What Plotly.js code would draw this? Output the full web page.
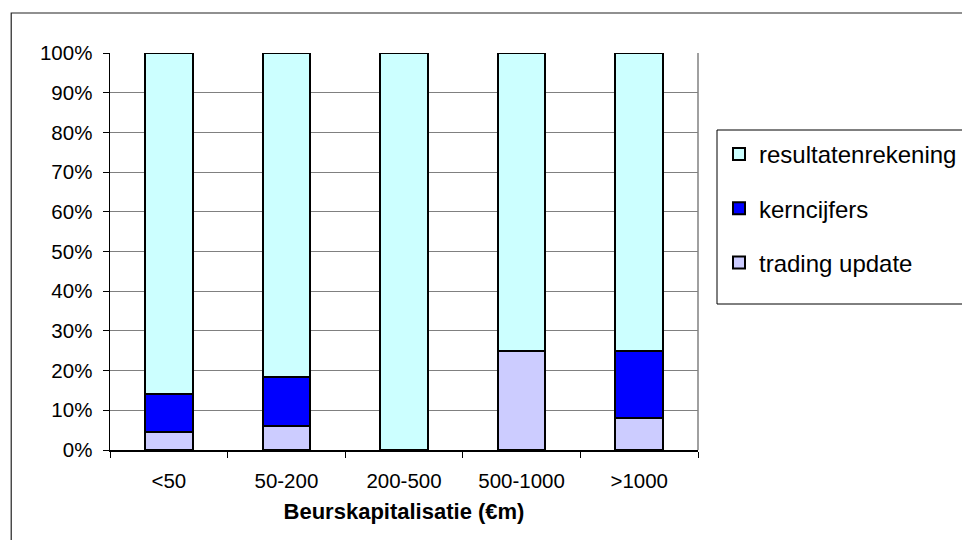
<!DOCTYPE html>
<html>
<head>
<meta charset="utf-8">
<script src="https://cdn.plot.ly/plotly-3.0.1.min.js"></script>
<style>
  html, body { margin: 0; padding: 0; background: #fff; width: 962px; height: 540px; overflow: hidden; }
  #chart { width: 1020px; height: 540px; }
</style>
</head>
<body>
<div id="chart"></div>
<script>
const categories = ['<50', '50-200', '200-500', '500-1000', '>1000'];
const tradingUpdate = [4.5, 6.0, 0, 25, 8];
const kerncijfers = [9.5, 12.5, 0, 0, 17];
const resultatenrekening = [86, 81.5, 100, 75, 75];
const yTickVals = [0, 10, 20, 30, 40, 50, 60, 70, 80, 90, 100];
const yTickText = ['0%', '10%', '20%', '30%', '40%', '50%', '60%', '70%', '80%', '90%', '100%'];

const FONT = 'Liberation Sans, Arial, sans-serif';
const line = { color: '#000000', width: 2 };

const data = [
  { type: 'bar', name: 'trading update', x: categories, y: tradingUpdate,
    marker: { color: '#CCCCFF', line: line }, legendgroup: 'a', legendrank: 3, hoverinfo: 'x+y' },
  { type: 'bar', name: 'kerncijfers', x: categories, y: kerncijfers,
    marker: { color: '#0000FF', line: line }, legendgroup: 'b', legendrank: 2, hoverinfo: 'x+y' },
  { type: 'bar', name: 'resultatenrekening', x: categories, y: resultatenrekening,
    marker: { color: '#CCFFFF', line: line }, legendgroup: 'c', legendrank: 1, hoverinfo: 'x+y' }
];

// plot area: x 110..698 (588 px), y 53..450 (397 px)
const layout = {
  width: 1020, height: 540,
  margin: { l: 110, r: 322, t: 53, b: 90, pad: 0 },
  paper_bgcolor: '#ffffff', plot_bgcolor: '#ffffff',
  barmode: 'stack', bargap: 0.595,
  font: { family: FONT, color: '#000000', size: 20 },
  showlegend: true,
  legend: {
    x: (719 - 110) / 588, xanchor: 'left', y: (450 - 132) / 397, yanchor: 'top',
    borderwidth: 0, bgcolor: 'rgba(255,255,255,0)',
    font: { family: FONT, size: 24, color: '#000000' },
    traceorder: 'grouped', tracegroupgap: 20,
    itemclick: false
  },
  xaxis: {
    type: 'category', tickson: 'boundaries', ticks: 'outside', ticklen: 6,
    tickcolor: '#000000', tickwidth: 1,
    showline: true, linecolor: '#000000', linewidth: 1.5,
    showgrid: false, zeroline: false,
    tickfont: { family: FONT, size: 20.5, color: '#000000' },
    ticklabelstandoff: 12,
    title: { text: 'Beurskapitalisatie (€m)', font: { family: FONT, size: 22, color: '#000000', weight: 'bold' }, standoff: 12 },
    fixedrange: true
  },
  yaxis: {
    range: [0, 100], tickvals: yTickVals, ticktext: yTickText,
    ticks: 'outside', ticklen: 6, tickcolor: '#000000', tickwidth: 1,
    showline: true, linecolor: '#000000', linewidth: 1.5,
    showgrid: true, gridcolor: '#808080', gridwidth: 1.2,
    zeroline: false,
    tickfont: { family: FONT, size: 20.5, color: '#000000' },
    ticklabelstandoff: 6,
    fixedrange: true
  },
  shapes: [
    { type: 'line', xref: 'paper', yref: 'paper', x0: 1, x1: 1, y0: 0, y1: 1,
      line: { color: '#808080', width: 1.5 } },
    { type: 'rect', xref: 'paper', yref: 'paper',
      x0: (717 - 110) / 588, x1: (1015 - 110) / 588,
      y0: (450 - 304) / 397, y1: (450 - 130) / 397,
      line: { color: '#000000', width: 1 }, fillcolor: 'rgba(0,0,0,0)' },
    { type: 'rect', xref: 'paper', yref: 'paper', x0: -0.168, x1: 2, y0: -1, y1: 1.1008,
      line: { color: '#222222', width: 1.2 }, fillcolor: 'rgba(0,0,0,0)', layer: 'below' }
  ]
};

Plotly.newPlot('chart', data, layout, { displayModeBar: false, staticPlot: true });
</script>
</body>
</html>
